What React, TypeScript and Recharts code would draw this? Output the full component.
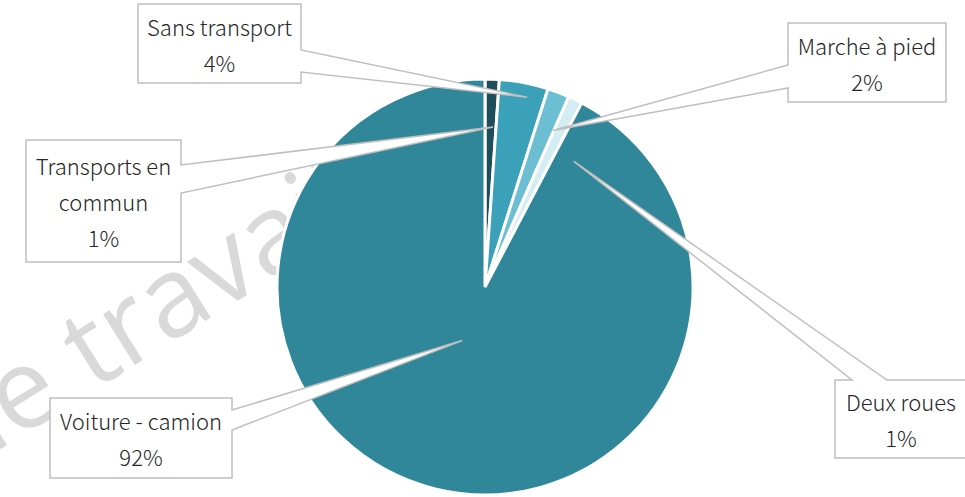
import React from "react";
import { PieChart, Pie, Cell } from "recharts";

// modes de transport domicile-travail
const categories = ["Transports en commun", "Sans transport", "Marche à pied", "Deux roues", "Voiture - camion"];
const shares = [1.1, 3.8, 1.7, 1.1, 92.3];
const colors = ["#1d4e5a", "#3aa1b9", "#6cbfd2", "#d4edf4", "#31879a"];

// callout boxes (Excel-like), one per slice
const callouts = [
  { x: 26, y: 140, w: 155, h: 122, side: "right", a: 165, b: 193, r: 0.77, off: -0.9, wrap: 2 },
  { x: 138, y: 4, w: 163, h: 79, side: "right", a: 50, b: 72, r: 0.935, off: -1.7, wrap: 0 },
  { x: 788, y: 23, w: 158, h: 79, side: "left", a: 65, b: 88, r: 0.82, off: -2.7, wrap: 0 },
  { x: 835, y: 380, w: 132, h: 78, side: "top", a: 852, b: 887, r: 0.74, off: -9.5, wrap: 0 },
  { x: 50, y: 398, w: 182, h: 80, side: "right", a: 410, b: 430, r: 0.28, off: -9.2, wrap: 0 },
];

const RAD = Math.PI / 180;
const FONT = "'Noto Sans CJK JP', 'Noto Sans', sans-serif";

const calloutPath = (c: any, tx: number, ty: number) => {
  const { x, y, w, h, side, a, b } = c;
  let pts: number[][];
  if (side === "right") {
    pts = [[x, y], [x + w, y], [x + w, a], [tx, ty], [x + w, b], [x + w, y + h], [x, y + h]];
  } else if (side === "left") {
    pts = [[x, y], [x + w, y], [x + w, y + h], [x, y + h], [x, b], [tx, ty], [x, a]];
  } else {
    pts = [[x, y], [a, y], [tx, ty], [b, y], [x + w, y], [x + w, y + h], [x, y + h]];
  }
  return "M" + pts.map((p) => p.join(",")).join("L") + "Z";
};

const renderLabel = (props: any) => {
  const { cx, cy, midAngle, outerRadius, percent, index, name } = props;
  const c = callouts[index];
  const ang = (midAngle + c.off) * RAD;
  const tx = cx + outerRadius * c.r * Math.cos(-ang);
  const ty = cy + outerRadius * c.r * Math.sin(-ang);
  const words = String(name).split(" ");
  const lines = c.wrap ? [words.slice(0, c.wrap).join(" "), words.slice(c.wrap).join(" ")] : [name];
  lines.push(Math.round(percent * 100) + "%");
  const step = 36;
  const midY = c.y + c.h / 2;
  const startY = midY - ((lines.length - 1) * step) / 2;
  return (
    <g key={"lbl" + index}>
      <path d={calloutPath(c, tx, ty)} fill="#ffffff" stroke="#bfbfbf" strokeWidth={1.5} />
      {lines.map((t: string, i: number) => (
        <text
          key={i}
          x={c.x + c.w / 2}
          y={startY + i * step}
          textAnchor="middle"
          dominantBaseline="central"
          fontFamily={FONT}
          fontWeight={300}
          fontSize={22}
          fill="#262626"
        >
          {t}
        </text>
      ))}
    </g>
  );
};

const data = categories.map((name, i) => ({ name, value: shares[i] }));

export default function App() {
  return (
    <div style={{ position: "absolute", left: 0, top: 0, width: 965, height: 497, background: "#ffffff", overflow: "hidden" }}>
      <svg width={965} height={497} style={{ position: "absolute", left: 0, top: 0 }}>
        <g transform="translate(15,440) rotate(-32)">
          <text x={0} y={0} textAnchor="end" fontFamily="'Open Sans', sans-serif" fontWeight={500} fontSize={112} fill="#d9d9d9">
            Document d
          </text>
          <text x={0} y={0} textAnchor="start" fontFamily="'Open Sans', sans-serif" fontWeight={500} fontSize={112} fill="#d9d9d9">
            e travail
          </text>
        </g>
      </svg>
      <div style={{ position: "absolute", left: 0, top: 0 }}>
        <PieChart width={965} height={497} margin={{ top: 0, right: 0, bottom: 0, left: 0 }}>
          <Pie
            data={data}
            dataKey="value"
            nameKey="name"
            cx={485}
            cy={287}
            outerRadius={208}
            startAngle={90}
            endAngle={-270}
            stroke="#ffffff"
            strokeWidth={3}
            label={renderLabel}
            labelLine={false}
            isAnimationActive={false}
          >
            {data.map((d, i) => (
              <Cell key={d.name} fill={colors[i]} />
            ))}
          </Pie>
        </PieChart>
      </div>
    </div>
  );
}
